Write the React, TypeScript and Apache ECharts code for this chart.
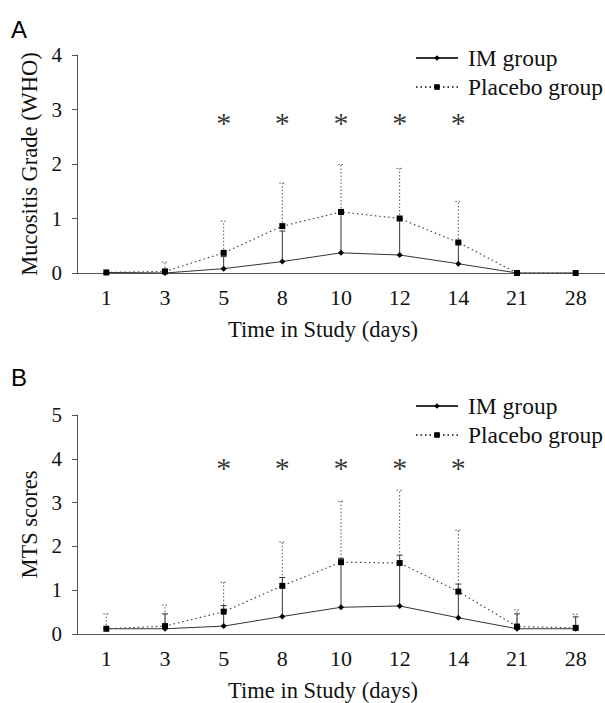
import React, { useEffect, useRef } from "react";
import * as echarts from "echarts";

const days = ["1", "3", "5", "8", "10", "12", "14", "21", "28"];

// Panel A: Mucositis Grade (WHO)
const whoIM = [0.01, 0.0, 0.08, 0.21, 0.37, 0.33, 0.17, 0.0, 0.0];
const whoIMUpper = [0.01, 0.0, 0.3, 0.77, 1.12, 1.0, 0.56, 0.0, 0.0];
const whoPlacebo = [0.01, 0.03, 0.37, 0.86, 1.12, 1.0, 0.56, 0.0, 0.0];
const whoPlaceboUpper = [0.01, 0.2, 0.95, 1.65, 1.99, 1.92, 1.31, 0.0, 0.0];

// Panel B: MTS scores
const mtsIM = [0.12, 0.12, 0.18, 0.4, 0.61, 0.64, 0.37, 0.12, 0.12];
const mtsIMUpper = [0.12, 0.46, 0.65, 1.29, 1.73, 1.8, 1.14, 0.46, 0.39];
const mtsPlacebo = [0.12, 0.18, 0.51, 1.1, 1.64, 1.62, 0.97, 0.17, 0.14];
const mtsPlaceboUpper = [0.46, 0.66, 1.18, 2.1, 3.03, 3.28, 2.37, 0.55, 0.45];

const significantDays = ["5", "8", "10", "12", "14"];
const starLevelA = 2.77;
const starLevelB = 3.8;

const SERIF = "'Liberation Serif', 'Times New Roman', serif";

export default function App() {
  const ref = useRef<HTMLDivElement>(null);
  useEffect(() => {
    const chart = echarts.init(ref.current!, null, { renderer: "svg" });

    const errBar = (
      name: string,
      gridIdx: number,
      mean: number[],
      upper: number[],
      color: string,
      dash: boolean
    ) => ({
      type: "custom",
      name,
      xAxisIndex: gridIdx,
      yAxisIndex: gridIdx,
      z: 1,
      data: mean.map((m, i) => [i, m, upper[i]]),
      renderItem: (params: any, api: any) => {
        const i = api.value(0);
        const m = api.value(1);
        const u = api.value(2);
        if (u - m < 0.02) return { type: "group", children: [] };
        const p0 = api.coord([i, m]);
        const p1 = api.coord([i, u]);
        const style: any = { stroke: color, lineWidth: 1, fill: "none" };
        if (dash) style.lineDash = [1.5, 2];
        return {
          type: "group",
          children: [
            { type: "line", shape: { x1: p0[0], y1: p0[1], x2: p1[0], y2: p1[1] }, style },
            { type: "line", shape: { x1: p1[0] - 3, y1: p1[1], x2: p1[0] + 3, y2: p1[1] }, style },
          ],
        };
      },
    });

    const lineSeries = (name: string, gridIdx: number, data: number[], dotted: boolean) => ({
      type: "line",
      name,
      xAxisIndex: gridIdx,
      yAxisIndex: gridIdx,
      data,
      z: 3,
      symbol: dotted ? "rect" : "diamond",
      symbolSize: 6,
      showSymbol: true,
      itemStyle: { color: "#000" },
      lineStyle: dotted
        ? { color: "#444", width: 1.2, type: [1.5, 3] }
        : { color: "#333", width: 1, type: "solid" },
    });

    const stars = (gridIdx: number, level: number) => ({
      type: "scatter",
      name: "sig" + gridIdx,
      xAxisIndex: gridIdx,
      yAxisIndex: gridIdx,
      symbolSize: 1,
      itemStyle: { color: "transparent" },
      data: significantDays.map((d) => [d, level]),
      label: {
        show: true,
        position: "inside",
        formatter: "*",
        fontFamily: SERIF,
        fontSize: 30,
        color: "#000",
        textBorderWidth: 0,
        textBorderColor: "transparent",
      },
    });

    const xAxis = (gridIdx: number) => ({
      type: "category",
      gridIndex: gridIdx,
      data: days,
      boundaryGap: true,
      name: "Time in Study (days)",
      nameLocation: "middle",
      nameGap: 45,
      nameTextStyle: {
        fontFamily: SERIF,
        fontSize: 22.5,
        color: "#111",
        padding: [0, 36, 0, 0],
      },
      axisLine: { lineStyle: { color: "#555", width: 1 } },
      axisTick: { alignWithLabel: true, length: 5, lineStyle: { color: "#555" } },
      axisLabel: { fontFamily: SERIF, fontSize: 22, color: "#111", margin: 13 },
    });

    const yAxis = (gridIdx: number, max: number, name: string) => ({
      type: "value",
      gridIndex: gridIdx,
      min: 0,
      max,
      interval: 1,
      name,
      nameLocation: "middle",
      nameGap: 36,
      nameTextStyle: { fontFamily: SERIF, fontSize: 22.5, color: "#111" },
      axisLine: { show: true, lineStyle: { color: "#555", width: 1 } },
      axisTick: { show: true, length: 5, lineStyle: { color: "#555" } },
      splitLine: { show: false },
      axisLabel: { fontFamily: SERIF, fontSize: 21, color: "#111", margin: 15 },
    });

    const legend = (top: number) => ({
      orient: "vertical",
      left: 415,
      top,
      padding: 0,
      itemWidth: 42,
      itemHeight: 7,
      itemGap: 5,
      selectedMode: false,
      data: ["IM group", "Placebo group"],
      textStyle: { fontFamily: SERIF, fontSize: 23.5, color: "#111", padding: [0, 0, 0, 5] },
    });

    chart.setOption({
      animation: false,
      backgroundColor: "#fff",
      graphic: [
        {
          type: "text",
          left: 11,
          top: 17,
          style: { text: "A", font: "24px 'Liberation Sans', Arial, sans-serif", fill: "#000" },
        },
        {
          type: "text",
          left: 11,
          top: 365,
          style: { text: "B", font: "24px 'Liberation Sans', Arial, sans-serif", fill: "#000" },
        },
      ],
      legend: [legend(46), legend(394)],
      grid: [
        { left: 77, top: 55, width: 531, height: 218 },
        { left: 77, top: 415, width: 531, height: 219 },
      ],
      xAxis: [xAxis(0), xAxis(1)],
      yAxis: [yAxis(0, 4, "Mucositis Grade (WHO)"), yAxis(1, 5, "MTS scores")],
      series: [
        errBar("IM sd A", 0, whoIM, whoIMUpper, "#333", false),
        errBar("Placebo sd A", 0, whoPlacebo, whoPlaceboUpper, "#555", true),
        lineSeries("IM group", 0, whoIM, false),
        lineSeries("Placebo group", 0, whoPlacebo, true),
        stars(0, starLevelA),
        errBar("IM sd B", 1, mtsIM, mtsIMUpper, "#333", false),
        errBar("Placebo sd B", 1, mtsPlacebo, mtsPlaceboUpper, "#555", true),
        lineSeries("IM group", 1, mtsIM, false),
        lineSeries("Placebo group", 1, mtsPlacebo, true),
        stars(1, starLevelB),
      ],
    });
    return () => chart.dispose();
  }, []);
  return (
    <div
      ref={ref}
      style={{ position: "absolute", left: 0, top: 0, width: 605, height: 703 }}
    />
  );
}
